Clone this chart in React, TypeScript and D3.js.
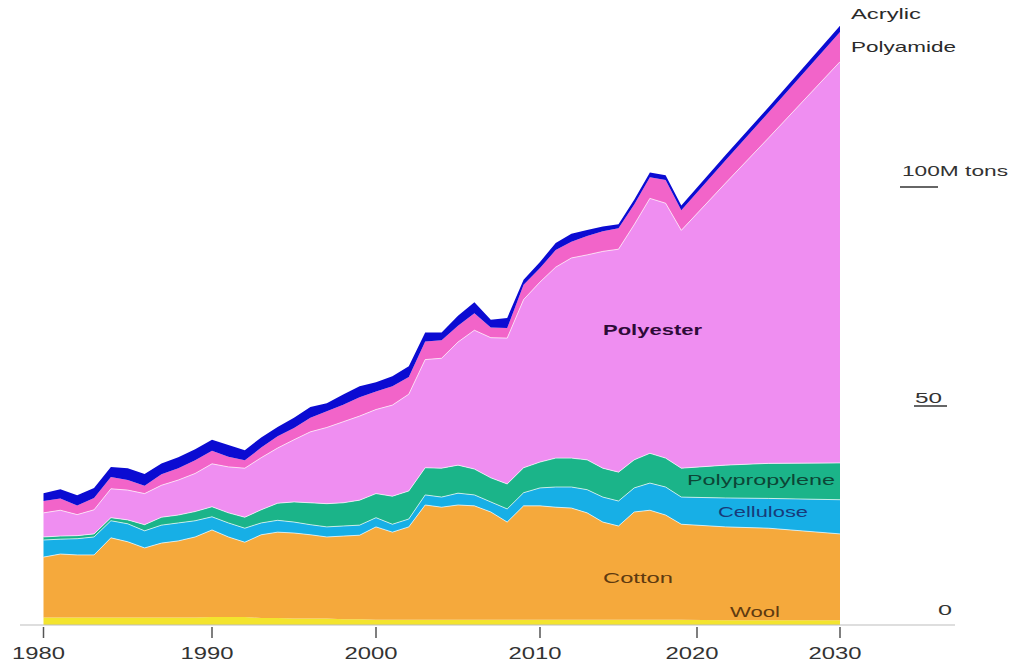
import React from "react";
import * as d3 from "d3";

const years = [1980,1981,1982,1983,1984,1985,1986,1987,1988,1989,1990,1991,1992,1993,1994,1995,1996,1997,1998,1999,2000,2001,2002,2003,2004,2005,2006,2007,2008,2009,2010,2011,2012,2013,2014,2015,2016,2017,2018,2019,2022,2025,2030];

const wool = [1.7,1.7,1.7,1.7,1.7,1.7,1.7,1.7,1.7,1.7, 1.8,1.8,1.8,1.6,1.6,1.5,1.5,1.5,1.3,1.3, 1.2,1.2,1.2,1.2,1.2,1.2,1.2,1.2,1.2,1.2, 1.2,1.2,1.2,1.2,1.2,1.2,1.2,1.2,1.2,1.2, 1.1,1.1,1.1];
const cotton = [13.8,14.5,14.3,14.3,18.2,17.3,15.9,17.0,17.5,18.4, 19.9,18.3,17.1,19.0,19.6,19.5,19.1,18.6,19.0,19.2, 21.2,20.0,21.2,26.2,25.7,26.2,26.0,24.6,22.3,26.0, 26.0,25.7,25.5,24.4,22.3,21.4,24.6,25.0,23.9,21.8, 21.3,21.0,19.7];
const cellulose = [3.9,3.4,3.7,4.1,3.9,4.1,3.9,4.1,4.1,3.7, 3.0,3.2,3.2,2.7,2.7,2.5,2.3,2.3,2.3,2.3, 2.1,1.8,1.8,2.3,2.3,2.7,2.5,2.3,3.0,3.0, 4.1,4.6,4.8,5.3,5.7,5.7,5.5,6.2,6.4,6.2, 6.6,6.8,7.8];
const polypropylene = [0.7,0.7,0.7,0.7,0.7,0.9,1.4,1.8,1.8,2.1, 2.3,2.3,2.5,3.0,3.9,4.6,5.0,5.3,5.3,5.7, 5.5,6.4,6.4,6.2,6.6,6.4,5.9,5.5,5.7,5.7, 5.9,6.6,6.6,6.8,6.6,6.6,6.4,6.8,6.6,6.6, 7.5,8.0,8.4];
const polyester = [5.5,5.9,4.8,5.5,6.6,6.8,7.1,7.3,8.0,8.7, 9.8,10.5,11.2,11.9,12.6,14.2,16.2,17.4,18.5,19.2, 19.2,20.8,22.1,24.7,25.1,28.1,31.7,32.0,33.3,38.4, 41.1,43.6,45.7,46.8,49.5,50.9,53.7,58.2,58.2,54.3, 64.4,74.3,91.6];
const polyamide = [2.7,2.7,2.1,2.7,2.7,2.3,1.8,2.5,2.7,3.0, 3.0,2.3,1.8,2.3,2.7,2.7,3.2,3.7,3.9,4.3, 4.1,4.3,3.9,4.1,4.1,3.7,3.9,2.3,2.3,3.4, 3.2,3.9,3.7,4.3,4.6,4.8,4.6,4.8,5.3,4.6, 5.2,5.8,6.8];
const acrylic = [1.8,2.1,2.3,2.3,2.3,2.7,2.7,2.5,2.5,2.5, 2.5,2.7,2.3,2.3,2.1,2.3,2.5,1.8,2.3,2.5, 2.1,2.3,2.5,2.1,1.8,2.3,2.5,1.8,2.3,1.1, 1.4,1.6,1.8,1.4,1.1,0.9,1.1,1.1,1.1,1.1, 1.2,1.2,1.4];

const seriesKeys = ["wool","cotton","cellulose","polypropylene","polyester","polyamide","acrylic"];
const seriesValues: Record<string, number[]> = { wool, cotton, cellulose, polypropylene, polyester, polyamide, acrylic };
const seriesColors: Record<string, string> = {
  wool: "#f3e42e",
  cotton: "#f5a93c",
  cellulose: "#17afe6",
  polypropylene: "#1bb489",
  polyester: "#ef8ef1",
  polyamide: "#f264c9",
  acrylic: "#0b0bd2",
};

const xTickYears = [1980, 1990, 2000, 2010, 2020, 2030];
const xTickPixels = [43.5, 212, 376, 540, 697, 840];

export default function App() {
  const width = 1012;
  const height = 665;
  const x = d3.scaleLinear().domain(xTickYears).range(xTickPixels);
  const y = d3.scaleLinear().domain([0, 100]).range([625, 187]);

  const rows = years.map((yr, i) => {
    const r: any = { year: yr };
    seriesKeys.forEach((k) => (r[k] = seriesValues[k][i]));
    return r;
  });
  const stacked = d3.stack<any>().keys(seriesKeys)(rows);
  const area = d3
    .area<any>()
    .x((d) => x(d.data.year))
    .y0((d) => y(d[0]))
    .y1((d) => y(d[1]))
    .curve(d3.curveLinear);
  const topLine = d3
    .line<any>()
    .x((d) => x(d.data.year))
    .y((d) => y(d[1]))
    .curve(d3.curveLinear);

  const font = "'Liberation Sans', Arial, Helvetica, sans-serif";

  return (
    <svg
      width={width}
      height={height}
      style={{ position: "absolute", left: 0, top: 0, background: "#fff" }}
      fontFamily={font}
    >
      <rect x={0} y={0} width={width} height={height} fill="#fff" />
      {stacked.map((s) => (
        <path key={s.key} d={area(s) || ""} fill={seriesColors[s.key]} />
      ))}
      {stacked
        .filter((s) => ["cotton", "cellulose", "polypropylene", "polyester"].includes(s.key))
        .map((s) => (
          <path
            key={"l" + s.key}
            d={topLine(s) || ""}
            fill="none"
            stroke="#ffffff"
            strokeOpacity={0.75}
            strokeWidth={0.9}
          />
        ))}
      {/* x axis */}
      <line x1={20} x2={955} y1={y(0)} y2={y(0)} stroke="#bdbdbd" strokeWidth={1} />
      {xTickYears.map((t) => (
        <g key={t}>
          <line x1={x(t)} x2={x(t)} y1={627} y2={638} stroke="#555" strokeWidth={1.5} />
          <text
            x={x(t) - 5}
            y={658.5}
            textAnchor="middle"
            fontSize={16.5}
            fill="#333"
            textLength={53}
            lengthAdjust="spacingAndGlyphs"
          >
            {t}
          </text>
        </g>
      ))}
      {/* y scale labels */}
      <text x={902} y={176} fontSize={15} fill="#333" textLength={106} lengthAdjust="spacingAndGlyphs">100M tons</text>
      <line x1={900} x2={938} y1={y(100)} y2={y(100)} stroke="#333" strokeWidth={1.3} />
      <text x={915} y={403} fontSize={15} fill="#333" textLength={27} lengthAdjust="spacingAndGlyphs">50</text>
      <line x1={914} x2={947} y1={y(50)} y2={y(50)} stroke="#333" strokeWidth={1.3} />
      <text x={938} y={615} fontSize={15} fill="#333" textLength={14} lengthAdjust="spacingAndGlyphs">0</text>
      {/* series labels */}
      <text x={851} y={19} fontSize={15} fill="#2a2a2a" textLength={70} lengthAdjust="spacingAndGlyphs">Acrylic</text>
      <text x={851} y={52} fontSize={15} fill="#2a2a2a" textLength={105} lengthAdjust="spacingAndGlyphs">Polyamide</text>
      <text x={603} y={335} fontSize={15} fontWeight="bold" fill="#2e0b38" textLength={99} lengthAdjust="spacingAndGlyphs">Polyester</text>
      <text x={687} y={485} fontSize={15} fill="#0c4636" textLength={148} lengthAdjust="spacingAndGlyphs">Polypropylene</text>
      <text x={718} y={517} fontSize={15} fill="#173b7a" textLength={90} lengthAdjust="spacingAndGlyphs">Cellulose</text>
      <text x={603} y={583} fontSize={15} fill="#5e3a10" textLength={70} lengthAdjust="spacingAndGlyphs">Cotton</text>
      <text x={730} y={617} fontSize={15} fill="#5e3a10" textLength={50} lengthAdjust="spacingAndGlyphs">Wool</text>
    </svg>
  );
}
